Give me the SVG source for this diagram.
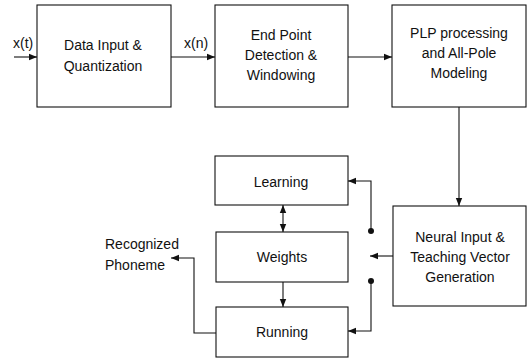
<svg xmlns="http://www.w3.org/2000/svg" width="531" height="360" viewBox="0 0 531 360">
  <defs>
    <marker id="arrow" viewBox="0 0 10 10" refX="10" refY="5" markerWidth="8" markerHeight="8" orient="auto-start-reverse" markerUnits="userSpaceOnUse">
      <path d="M0,1 L10,5 L0,9 Z" fill="#111"/>
    </marker>
  </defs>
  <style>
    .box { fill: #fff; stroke: #111; stroke-width: 1.1; }
    .lbl { font-family: "Liberation Sans", Arial, sans-serif; font-size: 14px; fill: #111; text-anchor: middle; }
    .lft { text-anchor: start; }
    .wire { fill: none; stroke: #111; stroke-width: 1.1; }
    .dot { fill: #111; }
  </style>
  <rect width="531" height="360" fill="#fff"/>

  <g id="data-input">
    <rect class="box" x="37" y="5" width="134" height="102"/>
    <text class="lbl" x="103" y="50">Data Input &amp;</text>
    <text class="lbl" x="103" y="71">Quantization</text>
  </g>

  <g id="end-point">
    <rect class="box" x="215" y="5" width="133" height="102"/>
    <text class="lbl" x="281" y="40">End Point</text>
    <text class="lbl" x="281" y="60">Detection &amp;</text>
    <text class="lbl" x="281" y="80">Windowing</text>
  </g>

  <g id="plp">
    <rect class="box" x="392" y="5" width="134" height="102"/>
    <text class="lbl" x="459" y="38">PLP processing</text>
    <text class="lbl" x="459" y="58">and All-Pole</text>
    <text class="lbl" x="459" y="78">Modeling</text>
  </g>

  <g id="neural-input">
    <rect class="box" x="393" y="206" width="133" height="100"/>
    <text class="lbl" x="460" y="242">Neural Input &amp;</text>
    <text class="lbl" x="460" y="262">Teaching Vector</text>
    <text class="lbl" x="460" y="282">Generation</text>
  </g>

  <g id="learning">
    <rect class="box" x="215" y="156" width="133" height="49"/>
    <text class="lbl" x="281" y="187">Learning</text>
  </g>

  <g id="weights">
    <rect class="box" x="216" y="232" width="132" height="50"/>
    <text class="lbl" x="282" y="262">Weights</text>
  </g>

  <g id="running">
    <rect class="box" x="216" y="307" width="132" height="50"/>
    <text class="lbl" x="282" y="337">Running</text>
  </g>

  <g id="labels">
    <text class="lbl lft" x="13" y="48">x(t)</text>
    <text class="lbl lft" x="184" y="48">x(n)</text>
    <text class="lbl lft" x="105" y="249">Recognized</text>
    <text class="lbl lft" x="105" y="270">Phoneme</text>
  </g>

  <g id="connectors">
    <line class="wire" x1="14" y1="57" x2="37" y2="57" marker-end="url(#arrow)"/>
    <line class="wire" x1="171" y1="57" x2="215" y2="57" marker-end="url(#arrow)"/>
    <line class="wire" x1="348" y1="57" x2="392" y2="57" marker-end="url(#arrow)"/>
    <line class="wire" x1="459" y1="107" x2="459" y2="206" marker-end="url(#arrow)"/>
    <line class="wire" x1="393" y1="256" x2="370" y2="256" marker-end="url(#arrow)"/>
    <polyline class="wire" points="371,231 371,181 348,181" marker-end="url(#arrow)"/>
    <polyline class="wire" points="371,281 371,331 348,331" marker-end="url(#arrow)"/>
    <circle class="dot" cx="371" cy="231" r="3"/>
    <circle class="dot" cx="371" cy="281" r="3"/>
    <line class="wire" x1="283" y1="205" x2="283" y2="232" marker-start="url(#arrow)" marker-end="url(#arrow)"/>
    <line class="wire" x1="283" y1="282" x2="283" y2="307" marker-end="url(#arrow)"/>
    <polyline class="wire" points="216,333 194,333 194,258 171,258" marker-end="url(#arrow)"/>
  </g>
</svg>
